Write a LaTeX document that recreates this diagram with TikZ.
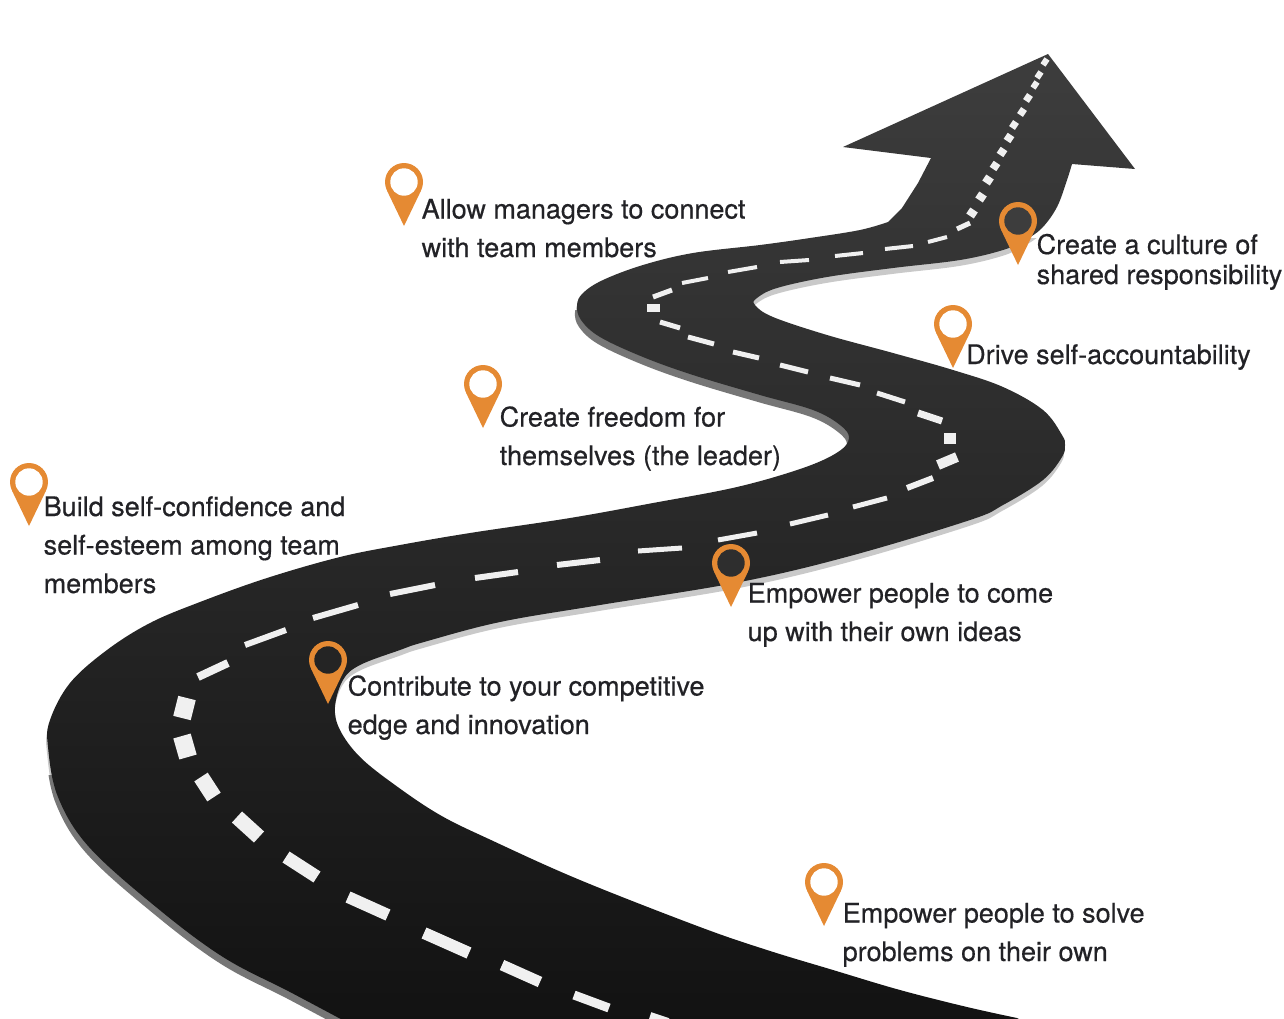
\documentclass[tikz,border=0pt]{standalone}
\usepackage{fontspec}
\setmainfont[FakeBold=0.5]{TeX Gyre Heros}
\definecolor{pinorange}{HTML}{E58A33}
\definecolor{labelink}{HTML}{222226}
\definecolor{shadowlight}{HTML}{C9C9C9}
\definecolor{shadowdark}{HTML}{767676}
\tikzset{
  label text/.style={anchor=base west, inner sep=0pt, align=left, text=labelink,
    font=\fontsize{27}{38.5}\selectfont},
  dash line/.style={draw=white!94!black, line cap=butt}
}
% outline of road and arrow
\newcommand{\roadoutline}{
  (1048,54) -- (843,147) -- (931,158) -- (918,183) -- (902,208)
  -- plot[smooth,tension=0.6] coordinates {(888,222) (860,230) (810,238) (760,245) (693,253) (643,265) (603,280)
    (583,293) (577,305) (581,320) (600,337) (643,357) (693,375) (760,395) (813,410) (840,425) (849,438) (838,452)
    (803,468) (737,487) (653,503) (570,518) (470,533) (400,545) (340,557) (267,578) (200,602) (150,623) (107,650)
    (70,683) (50,720) (48,747) (58,797) (89,847) (156,907) (223,957) (290,992) (352,1025)}
  -- (1040,1030)
  -- plot[smooth,tension=0.6] coordinates {(1017,1018) (967,1007) (900,990) (833,970) (767,950) (700,927) (580,880)
    (491,840) (440,815) (395,785) (360,757) (340,730) (335,707) (343,680) (360,665) (400,650) (424,642) (500,622) (600,605)
    (740,582) (850,556) (970,520) (1003,505) (1043,480) (1062,457) (1065,445) (1062,435) (1043,410) (1003,387)
    (953,370) (893,353) (827,335) (773,317) (755,305) (757,298) (777,288) (827,277) (893,268) (960,260)
    (1003,250) (1025,240) (1042,228) (1057,207) (1067,180) (1072,164)}
  -- (1135,169) -- cycle
}
% pin: x, y of the head, fill of the hole
\newcommand{\pinmark}[3]{
  \fill[pinorange] (#1,#2) circle (19);
  \fill[pinorange] (#1-17,#2+8.6) -- (#1+17,#2+8.6) -- (#1,#2+44) -- cycle;
  \fill[#3] (#1,#2) circle (13.7);
}
\begin{document}
\begin{tikzpicture}[x=1pt,y=-1pt]
  \useasboundingbox (0,0) rectangle (1284,1018);
  \clip (0,0) rectangle (1284,1018);

  % shadow under the road
  \begin{scope}
    \clip (0,238) rectangle (1284,1030);
    \fill[shadowlight, shift={(-1,6)}] \roadoutline;
  \end{scope}
  \begin{scope}
    \clip (560,310) rectangle (860,450) (0,775) rectangle (400,1030);
    \fill[shadowdark, shift={(-2,7)}] \roadoutline;
  \end{scope}

  % road
  \shade[top color=black!76, middle color=black!84, bottom color=black!93] \roadoutline;

  % centre line
  \foreach \xa/\ya/\xb/\yb/\wd in {
    650/1016/668/1022/8, 574/995/609/1008/9, 502/965/540/982/11, 424/933/469/953/12, 348/897/388/915/12,
    286/857/317/877/13, 237/817/259/837/15, 201/777/214/797/16, 182/736/188/757/18, 187/698/182/718/18,
    198/677/228/663/8, 245/645/286/630/6, 313/618/358/605/6, 390/594/435/585/6, 475/578/518/572/6,
    557/565/600/560/6, 638/551/682/548/5, 718/540/757/533/5, 790/524/828/515/5, 853/507/887/498/5,
    907/488/933/478/6, 938/465/957/457/10, 950/433/950/444/12, 918/413/942/421/7, 877/393/905/402/5,
    830/378/860/385/5, 780/365/808/372/5, 733/352/759/358/5, 688/337/714/344/5, 660/322/680/328/5,
    647/308/660/308/8, 653/297/672/290/5, 682/283/708/278/4, 728/272/757/267/4, 780/262/809/260/4,
    835/256/863/253/4, 885/249/913/246/4, 928/242/947/237/4, 957/229/970/223/5
  }
    \draw[dash line, line width=\wd] (\xa,\ya) -- (\xb,\yb);
  \foreach \xc/\yc/\wd in {
    972/213/9, 981/197/9, 988/180/9, 995/166/8, 1002/152/8, 1009/138/8,
    1014/125/7, 1022/112/7, 1028/98/7, 1035/85/6, 1039/75/6, 1045/62/6
  }
    \draw[dash line, line width=\wd] (\xc-2,\yc+3) -- (\xc+2,\yc-3);

  % pins
  \pinmark{404}{182}{white}
  \pinmark{1018}{221}{black!76}
  \pinmark{953}{324}{white}
  \pinmark{483}{384}{white}
  \pinmark{29}{482}{white}
  \pinmark{731}{563}{black!82}
  \pinmark{328}{660}{black!86}
  \pinmark{824}{882}{white}

  % labels
  \node[label text] (managers) at (421.5,257) {Allow managers to connect\\with team members};
  \node[label text] (culture) at (1036.5,284) {Create a culture of\\[-8.5pt]shared responsibility};
  \node[label text] (account) at (966,364) {Drive self-accountability};
  \node[label text] (freedom) at (499.5,465) {Create freedom for\\themselves (the leader)};
  \node[label text] (confidence) at (43.5,593) {Build self-confidence and\\self-esteem among team\\members};
  \node[label text] (ideas) at (747.5,641) {Empower people to come\\up with their own ideas};
  \node[label text] (edge) at (347.5,734) {Contribute to your competitive\\edge and innovation};
  \node[label text] (problems) at (842.5,961) {Empower people to solve\\problems on their own};
\end{tikzpicture}
\end{document}
